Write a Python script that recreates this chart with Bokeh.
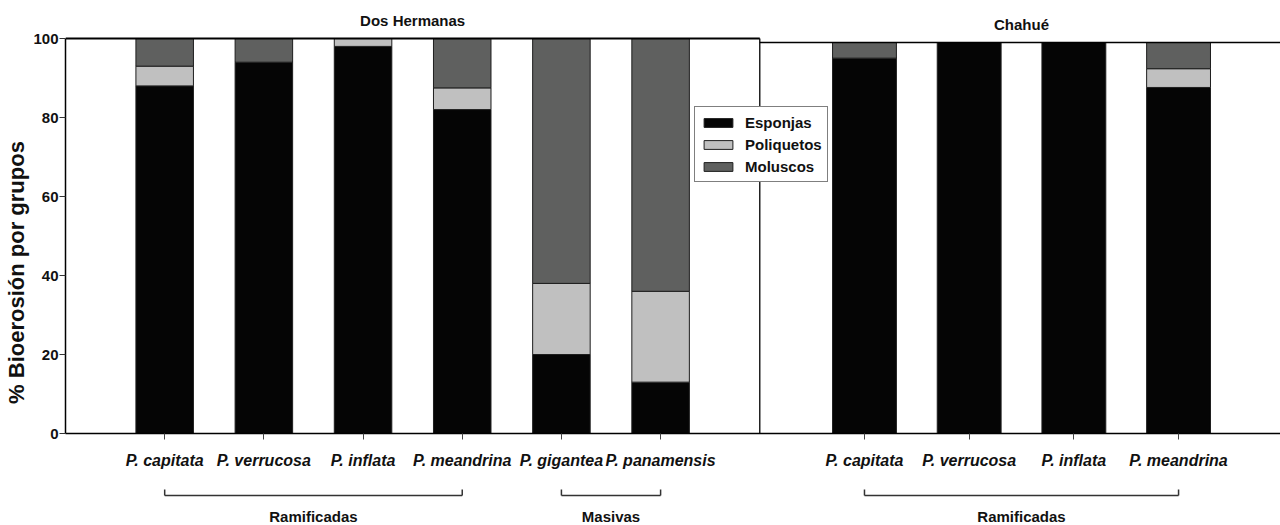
from math import pi

from bokeh.plotting import figure
from bokeh.models import (Range1d, FixedTicker, Legend, LegendItem, Label,
                          ColumnDataSource)
from bokeh.layouts import column, row
from bokeh.core.properties import value
from bokeh.embed import file_html
from bokeh.resources import INLINE

# ---------------- data ----------------
groups = ["Esponjas", "Poliquetos", "Moluscos"]

dh_title = "Dos Hermanas"
dh_species = ["P. capitata", "P. verrucosa", "P. inflata", "P. meandrina",
              "P. gigantea", "P. panamensis"]
dh_esponjas = [88, 94, 98, 82, 20, 13]
dh_poliquetos = [5, 0, 2, 5.5, 18, 23]
dh_moluscos = [7, 6, 0, 12.5, 62, 64]

ch_title = "Chahué"
ch_species = ["P. capitata", "P. verrucosa", "P. inflata", "P. meandrina"]
ch_esponjas = [96, 100, 100, 88.5]
ch_poliquetos = [0, 0, 0, 4.8]
ch_moluscos = [4, 0, 0, 6.7]

dh_forms = ["Ramificadas", "Masivas"]
dh_form_first = ["P. capitata", "P. gigantea"]
dh_form_last = ["P. meandrina", "P. panamensis"]
ch_forms = ["Ramificadas"]
ch_form_first = ["P. capitata"]
ch_form_last = ["P. meandrina"]

y_ticks = [0, 20, 40, 60, 80, 100]
y_label = "% Bioerosión por grupos"

# ---------------- layout constants ----------------
FONT = "Liberation Sans"
TOTAL_W, TOTAL_H = 1280, 525
YLAB_W = 30
W = TOTAL_W - YLAB_W
H_MAIN, H_STRIP = 475, 50
BL, BT, BB = 32, 2, 42
FRAME_W = W - BL
FRAME_H = H_MAIN - BT - BB
LEFT_PX_100, RIGHT_PX_100 = 395, 391
LEFT_PANEL_W = 696
STEP_L, STEP_R = 18, 19
SPLIT = STEP_L * (len(dh_species) + 1)
X_END = SPLIT * FRAME_W / LEFT_PANEL_W
Y_END = 100 * FRAME_H / LEFT_PX_100
RY_END = 100 * FRAME_H / RIGHT_PX_100

COLORS = ["#050505", "#c0c0c0", "#5f605f"]
TXT = "#111111"

dh_x = [STEP_L * (i + 1) for i in range(len(dh_species))]
ch_x = [SPLIT + STEP_R * (i + 1) for i in range(len(ch_species))]

src_dh = ColumnDataSource(dict(x=dh_x, Esponjas=dh_esponjas,
                               Poliquetos=dh_poliquetos, Moluscos=dh_moluscos))
src_ch = ColumnDataSource(dict(x=ch_x, Esponjas=ch_esponjas,
                               Poliquetos=ch_poliquetos, Moluscos=ch_moluscos))

x_range = Range1d(0, X_END)

p = figure(width=W, height=H_MAIN, x_range=x_range, y_range=Range1d(0, Y_END),
           min_border_left=BL, min_border_right=0, min_border_top=BT,
           min_border_bottom=BB, toolbar_location=None, output_backend="svg")
p.extra_y_ranges = {"ry": Range1d(0, RY_END)}
p.outline_line_color = None
p.grid.visible = False
p.background_fill_color = "white"

rs_dh = p.vbar_stack(groups, x="x", width=STEP_L * 0.58, source=src_dh,
                     fill_color=COLORS, line_color="#1e1e1e", line_width=1)
p.vbar_stack(groups, x="x", width=STEP_R * 0.61, source=src_ch,
             fill_color=COLORS, line_color="#1e1e1e", line_width=1,
             y_range_name="ry")

# panel frames
p.segment(x0=[0], y0=[100], x1=[SPLIT], y1=[100], line_color="black", line_width=1.8)
p.segment(x0=[SPLIT], y0=[0], x1=[SPLIT], y1=[100], line_color="black", line_width=1.3)
p.segment(x0=[SPLIT], y0=[100], x1=[X_END], y1=[100], line_color="black",
          line_width=1.3, y_range_name="ry")

# axes
xa = p.xaxis[0]
xa.ticker = FixedTicker(ticks=dh_x + ch_x)
xa.major_label_overrides = {**{x: s for x, s in zip(dh_x, dh_species)},
                            **{x: s for x, s in zip(ch_x, ch_species)}}
xa.major_tick_out = 6
xa.major_tick_in = 0
xa.minor_tick_line_color = None
xa.major_tick_line_color = "#444444"
xa.axis_line_color = "black"
xa.axis_line_width = 1.5
xa.major_label_standoff = 12
xa.major_label_text_font = FONT
xa.major_label_text_font_size = "16px"
xa.major_label_text_font_style = "bold italic"
xa.major_label_text_color = TXT

ya = p.yaxis[0]
ya.ticker = FixedTicker(ticks=y_ticks)
ya.bounds = (0, 100)
ya.major_tick_out = 6
ya.major_tick_in = 0
ya.minor_tick_line_color = None
ya.major_tick_line_color = "#333333"
ya.axis_line_color = "black"
ya.axis_line_width = 1.5
ya.major_label_standoff = 1
ya.major_label_text_font = FONT
ya.major_label_text_font_size = "15px"
ya.major_label_text_font_style = "bold"
ya.major_label_text_color = TXT

# panel titles (inside the frame, above the 100 % line)
p.add_layout(Label(x=SPLIT / 2, y=100, y_offset=18, text=dh_title,
                   text_align="center", text_baseline="middle",
                   text_font=FONT, text_font_size="15px",
                   text_font_style="bold", text_color=TXT))
p.add_layout(Label(x=SPLIT + STEP_R * (len(ch_species) + 1) / 2, y=100,
                   y_offset=18, y_range_name="ry", text=ch_title,
                   text_align="center", text_baseline="middle",
                   text_font=FONT, text_font_size="15px",
                   text_font_style="bold", text_color=TXT))

# legend
legend = Legend(items=[LegendItem(label=g, renderers=[r]) for g, r in zip(groups, rs_dh)],
                location=(629, 251), orientation="vertical",
                border_line_color="black", border_line_width=1.5,
                background_fill_color="white", background_fill_alpha=1.0,
                glyph_width=36, glyph_height=11, label_standoff=9,
                padding=5, spacing=2, margin=0, label_height=20,
                label_text_font=FONT, label_text_font_size="15px",
                label_text_font_style="bold", label_text_color=TXT)
p.add_layout(legend)

# ---------------- bracket strip (growth forms) ----------------
s = figure(width=W, height=H_STRIP, x_range=x_range, y_range=Range1d(H_STRIP, 0),
           min_border_left=BL, min_border_right=0, min_border_top=0,
           min_border_bottom=0, toolbar_location=None, output_backend="svg",
           x_axis_location=None, y_axis_location=None)
s.outline_line_color = None
s.grid.visible = False

BRK_Y, BRK_TICK, TXT_Y = 20, 6, 41
bx0, bx1, bnames = [], [], []
for forms, firsts, lasts, species, xs in (
        (dh_forms, dh_form_first, dh_form_last, dh_species, dh_x),
        (ch_forms, ch_form_first, ch_form_last, ch_species, ch_x)):
    for f, a, b in zip(forms, firsts, lasts):
        bx0.append(xs[species.index(a)])
        bx1.append(xs[species.index(b)])
        bnames.append(f)

n = len(bx0)
s.segment(x0=bx0, y0=[BRK_Y] * n, x1=bx1, y1=[BRK_Y] * n,
          line_color="#333333", line_width=1.5)
s.segment(x0=bx0 + bx1, y0=[BRK_Y] * (2 * n), x1=bx0 + bx1,
          y1=[BRK_Y - BRK_TICK] * (2 * n), line_color="#333333", line_width=1.5)
s.text(x=[(a + b) / 2 for a, b in zip(bx0, bx1)], y=[TXT_Y] * n, text=bnames,
       text_align="center", text_baseline="middle", text_font=value(FONT),
       text_font_size="15px", text_font_style="bold", text_color=TXT)

# ---------------- y-axis title strip ----------------
yl = figure(width=YLAB_W, height=TOTAL_H, x_range=Range1d(0, YLAB_W),
            y_range=Range1d(TOTAL_H, 0), min_border_left=0, min_border_right=0,
            min_border_top=0, min_border_bottom=0, toolbar_location=None,
            output_backend="svg", x_axis_location=None, y_axis_location=None)
yl.outline_line_color = None
yl.grid.visible = False
yl.text(x=[15.5], y=[272], text=[y_label], angle=pi / 2, text_align="center",
        text_baseline="middle", text_font=value(FONT), text_font_size="22px",
        text_font_style="bold", text_color=TXT)

layout = row(yl, column(p, s, spacing=0), spacing=0)
open("out.html", "w").write(file_html(layout, INLINE))
